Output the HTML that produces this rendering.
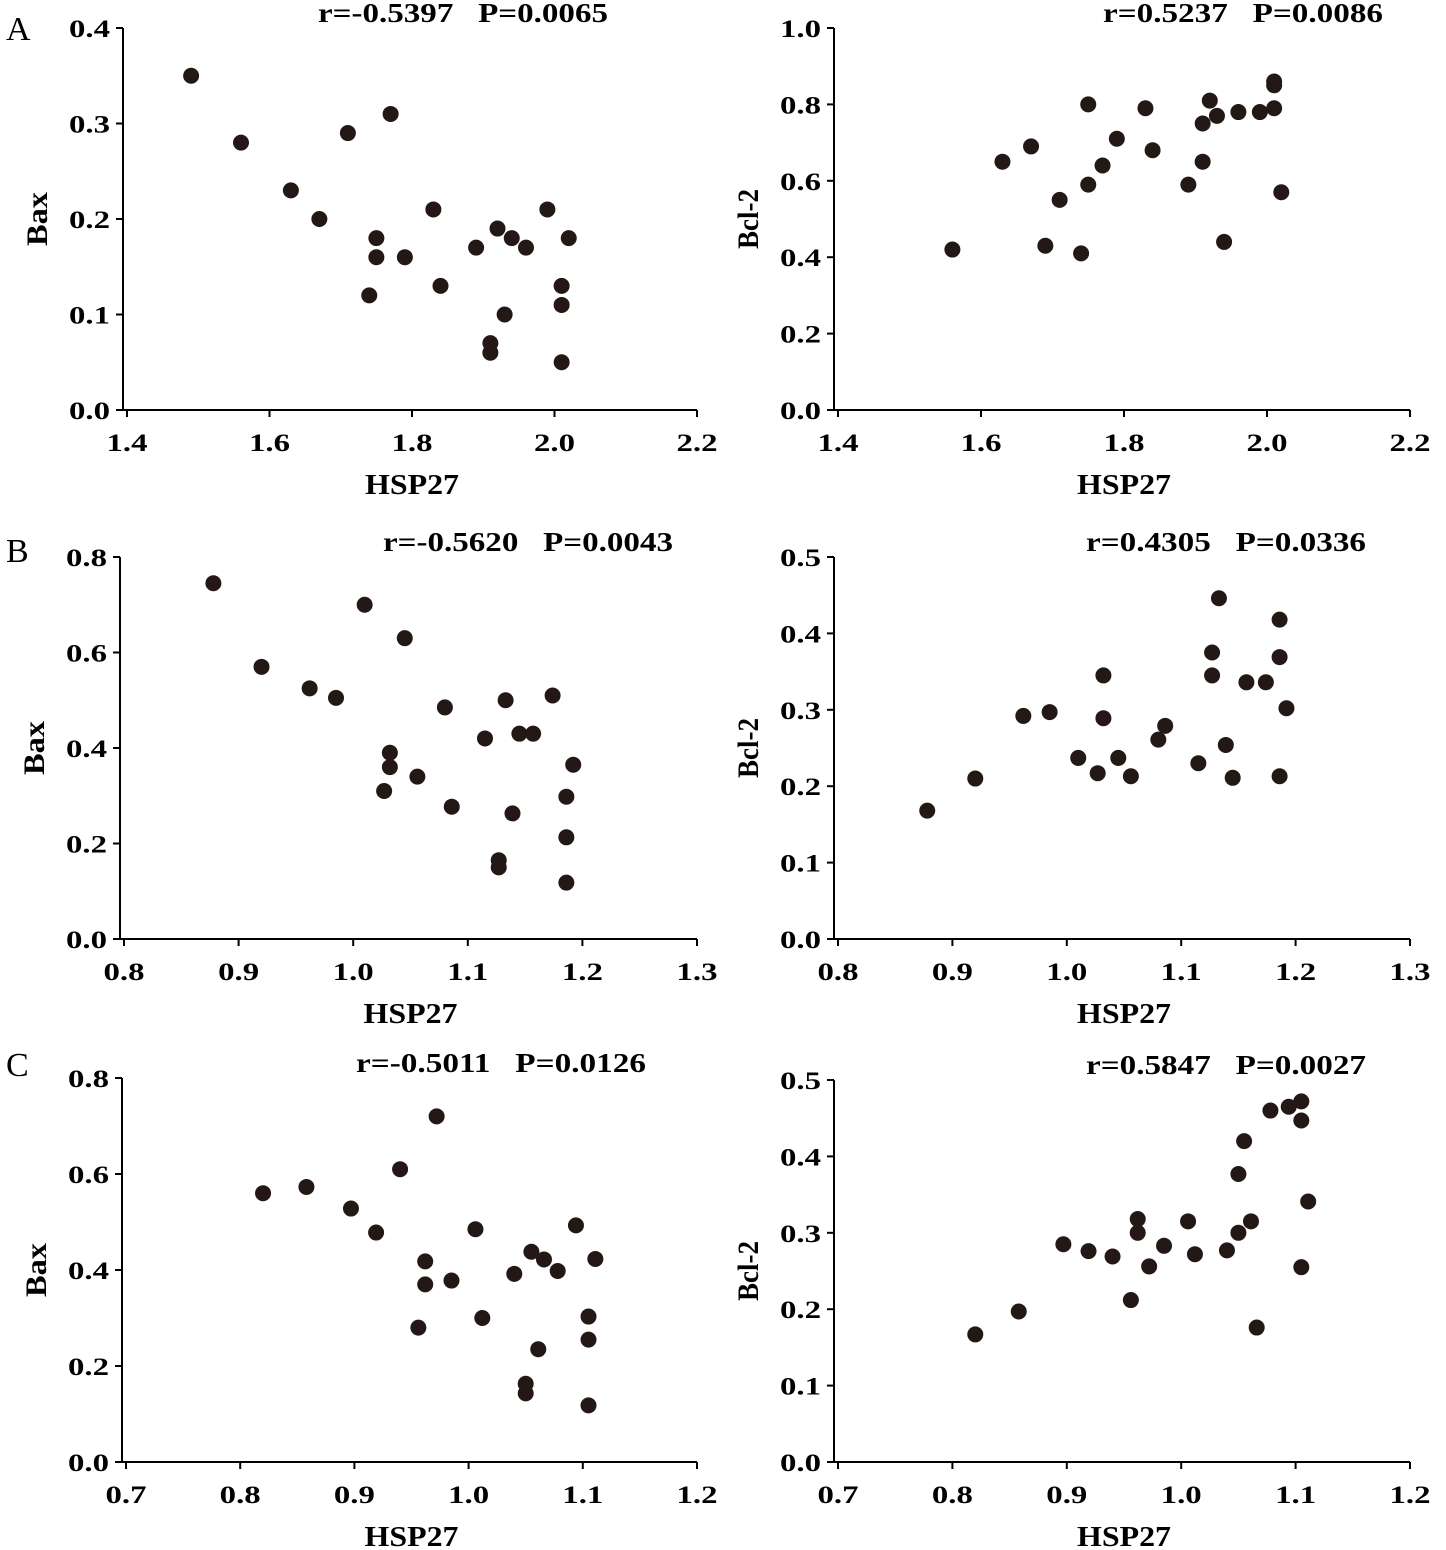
<!DOCTYPE html>
<html><head><meta charset="utf-8">
<style>
html,body{margin:0;padding:0;background:#fff;}
svg{display:block;font-family:"Liberation Serif",serif;}
</style></head>
<body>
<svg id="chart" width="1446" height="1550" viewBox="0 0 1446 1550">
<text x="6" y="40" font-size="34">A</text>
<text x="6" y="562" font-size="34">B</text>
<text x="6" y="1076" font-size="34">C</text>
</svg>
<script>
// ---- data ----
const aLeftX=[1.49,1.56,1.63,1.67,1.71,1.77,1.74,1.75,1.75,1.79,1.83,1.84,1.89,1.92,1.94,1.96,1.93,1.91,1.91,1.99,2.02,2.01,2.01,2.01];
const aLeftY=[0.35,0.28,0.23,0.20,0.29,0.31,0.12,0.18,0.16,0.16,0.21,0.13,0.17,0.19,0.18,0.17,0.10,0.07,0.06,0.21,0.18,0.13,0.11,0.05];
const aRightX=[1.56,1.63,1.67,1.69,1.71,1.74,1.75,1.75,1.77,1.79,1.83,1.84,1.89,1.91,1.91,1.92,1.93,1.94,1.96,1.99,2.01,2.01,2.01,2.02];
const aRightY=[0.42,0.65,0.69,0.43,0.55,0.41,0.59,0.80,0.64,0.71,0.79,0.68,0.59,0.65,0.75,0.81,0.77,0.44,0.78,0.78,0.79,0.85,0.86,0.57];
const bLeftX=[0.878,0.92,0.962,0.985,1.01,1.045,1.032,1.032,1.027,1.056,1.08,1.086,1.115,1.133,1.145,1.157,1.139,1.127,1.127,1.174,1.192,1.186,1.186,1.186];
const bLeftY=[0.745,0.57,0.525,0.505,0.70,0.63,0.39,0.36,0.31,0.34,0.485,0.277,0.42,0.50,0.43,0.43,0.263,0.165,0.15,0.51,0.365,0.298,0.213,0.118];
const bRightX=[0.878,0.92,0.962,0.985,1.01,1.027,1.032,1.032,1.045,1.056,1.08,1.086,1.115,1.127,1.127,1.133,1.139,1.145,1.157,1.174,1.186,1.186,1.192,1.186];
const bRightY=[0.168,0.21,0.292,0.297,0.237,0.217,0.345,0.289,0.237,0.213,0.261,0.279,0.23,0.375,0.345,0.446,0.254,0.211,0.336,0.336,0.418,0.369,0.302,0.213];
const cLeftX=[0.82,0.858,0.897,0.919,0.94,0.972,0.962,0.962,0.956,0.985,1.006,1.012,1.04,1.055,1.066,1.078,1.061,1.05,1.05,1.094,1.111,1.105,1.105,1.105];
const cLeftY=[0.56,0.573,0.528,0.478,0.61,0.72,0.418,0.37,0.28,0.378,0.485,0.30,0.392,0.438,0.422,0.398,0.235,0.163,0.143,0.493,0.423,0.303,0.255,0.118];
const cRightX=[0.82,0.858,0.897,0.919,0.94,0.956,0.962,0.962,0.972,0.985,1.006,1.012,1.04,1.05,1.05,1.055,1.061,1.066,1.078,1.094,1.105,1.105,1.105,1.111];
const cRightY=[0.167,0.197,0.285,0.276,0.269,0.212,0.318,0.30,0.256,0.283,0.315,0.272,0.277,0.377,0.30,0.42,0.315,0.176,0.46,0.465,0.472,0.447,0.255,0.341];
const aLeftStat="r=-0.5397   P=0.0065";
const aRightStat="r=0.5237   P=0.0086";
const bLeftStat="r=-0.5620   P=0.0043";
const bRightStat="r=0.4305   P=0.0336";
const cLeftStat="r=-0.5011   P=0.0126";
const cRightStat="r=0.5847   P=0.0027";

const svg=document.getElementById('chart');
const NS='http://www.w3.org/2000/svg';
function mk(tag,attrs){const e=document.createElementNS(NS,tag);for(const k in attrs)e.setAttribute(k,attrs[k]);svg.appendChild(e);return e;}

function panel(id,cfg,xs,ys,stat,ylab){
  const sx=v=>cfg.px0+(v-cfg.xmin)/(cfg.xmax-cfg.xmin)*(cfg.px1-cfg.px0);
  const sy=v=>cfg.py0-(v-cfg.ymin)/(cfg.ymax-cfg.ymin)*(cfg.py0-cfg.py1);
  const ax=cfg.px0-4;
  let l=mk('line',{x1:ax,y1:cfg.py0,x2:ax,y2:cfg.py1,stroke:'#000','stroke-width':2});
  
  
  l=mk('line',{x1:ax,y1:cfg.py0,x2:cfg.px1,y2:cfg.py0,stroke:'#000','stroke-width':2});
  
  
  const ny=Math.round((cfg.ymax-cfg.ymin)/cfg.ystep);
  for(let i=0;i<=ny;i++){
    const v=cfg.ymin+i*cfg.ystep,y=sy(v);
    mk('line',{x1:ax-7,y1:y,x2:ax,y2:y,stroke:'#000','stroke-width':2});
    const t=mk('text',{x:ax-13,y:y+9,'font-size':25,'font-weight':'bold','text-anchor':'end',textLength:41,lengthAdjust:'spacingAndGlyphs'});
    t.textContent=v.toFixed(1);
    
    
  }
  const nx=Math.round((cfg.xmax-cfg.xmin)/cfg.xstep);
  for(let i=0;i<=nx;i++){
    const v=cfg.xmin+i*cfg.xstep,x=sx(v);
    mk('line',{x1:x,y1:cfg.py0,x2:x,y2:cfg.py0+7,stroke:'#000','stroke-width':2});
    const t=mk('text',{x:x-20.5,y:cfg.py0+41,'font-size':25,'font-weight':'bold',textLength:41,lengthAdjust:'spacingAndGlyphs'});
    t.textContent=v.toFixed(1);
    
    
  }
  const cxm=(cfg.px0+cfg.px1)/2;
  let t=mk('text',{x:cxm-47,y:cfg.py0+84,'font-size':28,'font-weight':'bold',textLength:94,lengthAdjust:'spacingAndGlyphs'});
  t.textContent='HSP27';
  
  
  const cy=(cfg.py0+cfg.py1)/2, cx=ax-76;
  const yl=ylab==='Bax'?54:60;
  t=mk('text',{x:cx-yl/2,y:cy,'font-size':30,'font-weight':'bold',textLength:yl,lengthAdjust:'spacingAndGlyphs',transform:`rotate(-90 ${cx} ${cy})`});
  t.textContent=ylab;
  
  
  const sl=stat.indexOf('-')>=0?290:280;
  t=mk('text',{x:cfg.statX-sl/2,y:cfg.py1-6,'font-size':27,'font-weight':'bold',textLength:sl,lengthAdjust:'spacingAndGlyphs'});
  t.setAttribute('style','white-space:pre');
  t.textContent=stat;
  
  
  for(let i=0;i<xs.length;i++){
    const c=mk('circle',{cx:sx(xs[i]),cy:sy(ys[i]),r:8,fill:'#231815'});
    
    
  }
}
panel('a-left',{px0:127,px1:697,xmin:1.4,xmax:2.2,xstep:0.2,py0:410,py1:28,ymin:0,ymax:0.4,ystep:0.1,statX:463},aLeftX,aLeftY,aLeftStat,'Bax');
panel('a-right',{px0:838,px1:1410,xmin:1.4,xmax:2.2,xstep:0.2,py0:410,py1:28,ymin:0,ymax:1.0,ystep:0.2,statX:1243},aRightX,aRightY,aRightStat,'Bcl-2');
panel('b-left',{px0:124,px1:697,xmin:0.8,xmax:1.3,xstep:0.1,py0:939,py1:557,ymin:0,ymax:0.8,ystep:0.2,statX:528},bLeftX,bLeftY,bLeftStat,'Bax');
panel('b-right',{px0:838,px1:1410,xmin:0.8,xmax:1.3,xstep:0.1,py0:939,py1:557,ymin:0,ymax:0.5,ystep:0.1,statX:1226},bRightX,bRightY,bRightStat,'Bcl-2');
panel('c-left',{px0:126,px1:697,xmin:0.7,xmax:1.2,xstep:0.1,py0:1462,py1:1078,ymin:0,ymax:0.8,ystep:0.2,statX:501},cLeftX,cLeftY,cLeftStat,'Bax');
panel('c-right',{px0:838,px1:1410,xmin:0.7,xmax:1.2,xstep:0.1,py0:1462,py1:1080,ymin:0,ymax:0.5,ystep:0.1,statX:1226},cRightX,cRightY,cRightStat,'Bcl-2');
</script>
</body></html>
